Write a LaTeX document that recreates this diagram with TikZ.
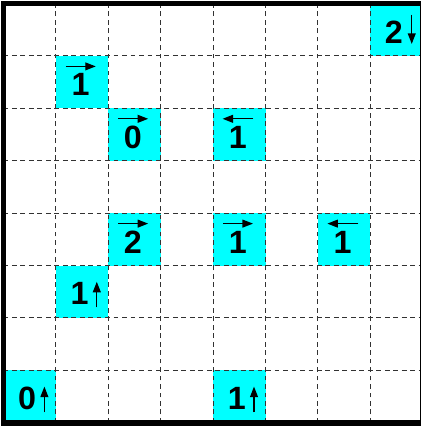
\documentclass[tikz,border=0pt]{standalone}
\usepackage{fontspec}
\setmainfont{Liberation Sans}
\usetikzlibrary{arrows.meta}
\definecolor{cellcyan}{RGB}{0,255,255}
\definecolor{gridgray}{RGB}{50,50,50}
\tikzset{
  cellbox/.style={fill=cellcyan, draw=none, minimum size=1cm, inner sep=0pt, outer sep=0pt},
  numlabel/.style={inner sep=0pt, font=\fontsize{17.5}{19}\selectfont\bfseries},
  gridline/.style={draw=gridgray, line width=0.55pt, dash pattern=on 2.6pt off 2pt},
  frameline/.style={line width=3.2pt},
  arr/.style={-{Triangle[length=0.2cm,width=0.15cm]}, line width=0.7pt}
}
\newcommand{\hcellR}[3]{% name, position, digit : right arrow above
  \node[cellbox] (#1) at (#2) {};
  \node[numlabel] (#1n) at ([shift={(-0.03,-0.05)}]#1.center) {#3};
  \coordinate (#1a) at ([shift={(-0.31,0.30)}]#1.center);
  \coordinate (#1b) at ([shift={(0.26,0.30)}]#1.center);
  \draw[arr] (#1a) -- (#1b);}
\newcommand{\hcellL}[3]{% left arrow above
  \node[cellbox] (#1) at (#2) {};
  \node[numlabel] (#1n) at ([shift={(-0.03,-0.05)}]#1.center) {#3};
  \coordinate (#1a) at ([shift={(0.27,0.30)}]#1.center);
  \coordinate (#1b) at ([shift={(-0.32,0.30)}]#1.center);
  \draw[arr] (#1a) -- (#1b);}
\newcommand{\vcellU}[3]{% up arrow right of digit
  \node[cellbox] (#1) at (#2) {};
  \node[numlabel] (#1n) at ([shift={(-0.05,-0.04)}]#1.center) {#3};
  \coordinate (#1a) at ([shift={(0.28,-0.30)}]#1.center);
  \coordinate (#1b) at ([shift={(0.28,0.19)}]#1.center);
  \draw[arr] (#1a) -- (#1b);}
\newcommand{\vcellD}[3]{% down arrow right of digit
  \node[cellbox] (#1) at (#2) {};
  \node[numlabel] (#1n) at ([shift={(-0.05,-0.04)}]#1.center) {#3};
  \coordinate (#1a) at ([shift={(0.29,0.29)}]#1.center);
  \coordinate (#1b) at ([shift={(0.29,-0.27)}]#1.center);
  \draw[arr] (#1a) -- (#1b);}
\begin{document}
\begin{tikzpicture}
\useasboundingbox (-0.067,-0.10) rectangle (7.95,8.067);
% cells
\vcellD{c70}{7.5,7.5}{2}
\hcellR{c11}{1.5,6.5}{1}
\hcellR{c22}{2.5,5.5}{0}
\hcellL{c42}{4.5,5.5}{1}
\hcellR{c24}{2.5,3.5}{2}
\hcellR{c44}{4.5,3.5}{1}
\hcellL{c64}{6.5,3.5}{1}
\vcellU{c15}{1.5,2.5}{1}
\vcellU{c07}{0.5,0.5}{0}
\vcellU{c47}{4.5,0.5}{1}
% dashed grid
\foreach \i in {1,...,7} {
  \draw[gridline] (\i,0) -- (\i,8);
  \draw[gridline] (0,\i) -- (8,\i);
}
% frame
\draw[frameline] (0,0) rectangle (8,8);
\end{tikzpicture}
\end{document}
